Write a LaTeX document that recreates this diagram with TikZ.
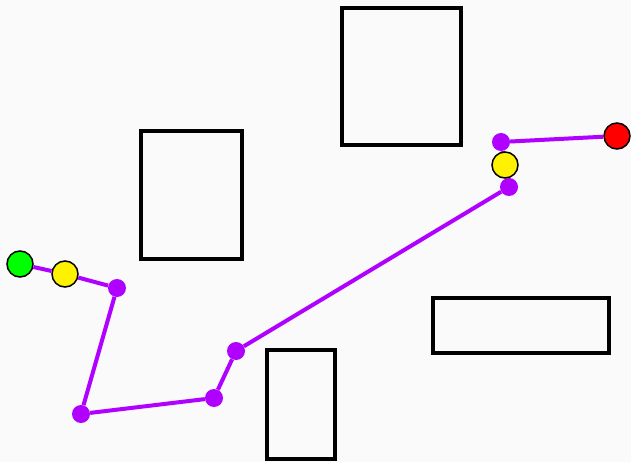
\documentclass[tikz,border=0pt]{standalone}
\definecolor{pathviolet}{RGB}{176,0,255}
\definecolor{bgray}{RGB}{250,250,250}
\tikzset{
  wpt/.style={circle,fill=pathviolet,inner sep=0pt,minimum size=18pt},
  endpt/.style={circle,draw=black,line width=1.5pt,inner sep=0pt,minimum size=26pt},
  route/.style={draw=pathviolet,line width=4pt},
  obst/.style={draw=black,line width=3.5pt}
}
\begin{document}
\begin{tikzpicture}[x=1pt,y=-1pt]
\fill[bgray] (0,0) rectangle (631,462);
\useasboundingbox (0,0) rectangle (631,462);
% obstacles
\draw[obst] (342,8) rectangle (461,145);
\draw[obst] (141,131) rectangle (242,259);
\draw[obst] (433,298) rectangle (609,353);
\draw[obst] (267,350) rectangle (335,459);
% waypoints
\node[wpt] (p1) at (117,288) {};
\node[wpt] (p2) at (81,414) {};
\node[wpt] (p3) at (214,398) {};
\node[wpt] (p4) at (236,351) {};
\node[wpt] (p5) at (509,187) {};
\node[wpt] (p6) at (501,142) {};
\draw[route] (p1)--(p2) (p2)--(p3) (p3)--(p4) (p4)--(p5) (p5)--(p6);
% start and goal
\node[endpt,fill=green] (start) at (20,264) {};
\node[endpt,fill=yellow] (s1) at (65,274) {};
\node[endpt,fill=yellow] (s2) at (505,165) {};
\node[endpt,fill=red] (goal) at (617,136) {};
\draw[route] (start)--(s1) (s1)--(p1) (p6)--(goal);
\end{tikzpicture}
\end{document}
